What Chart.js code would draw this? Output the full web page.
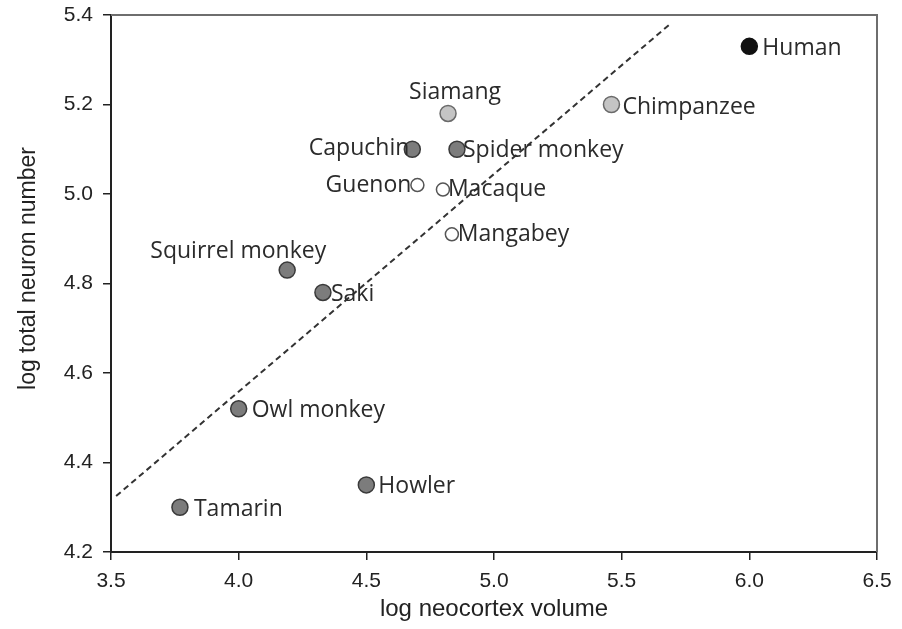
<!DOCTYPE html>
<html lang="en">
<head>
<meta charset="UTF-8" />
<title>Neocortex volume and neuron number in primates</title>
<script src="https://cdn.jsdelivr.net/npm/chart.js@4.4.0/dist/chart.umd.min.js"></script>
<style>
  html, body { margin: 0; padding: 0; background: #fff; }
  #wrap { width: 902px; height: 629px; }
</style>
</head>
<body>
<div id="wrap"><canvas id="myChart" width="902" height="629"></canvas></div>
<script>
  // species data (log10 values)
  const species = ["Human", "Chimpanzee", "Siamang", "Capuchin", "Spider monkey", "Guenon", "Macaque",
                   "Mangabey", "Squirrel monkey", "Saki", "Owl monkey", "Howler", "Tamarin"];
  const logNeocortex = [6.00, 5.46, 4.82, 4.68, 4.855, 4.70, 4.80, 4.835, 4.19, 4.33, 4.00, 4.50, 3.77];
  const logNeurons = [5.33, 5.20, 5.18, 5.10, 5.10, 5.02, 5.01, 4.91, 4.83, 4.78, 4.52, 4.35, 4.30];
  const group = ["human", "ape", "ape", "newWorld", "newWorld", "oldWorld", "oldWorld", "oldWorld",
                 "newWorld", "newWorld", "newWorld", "newWorld", "newWorld"];

  // regression line end points
  const fitX = [3.52, 5.69];
  const fitY = [4.325, 5.38];

  const xTicks = [3.5, 4.0, 4.5, 5.0, 5.5, 6.0, 6.5];
  const yTicks = [4.2, 4.4, 4.6, 4.8, 5.0, 5.2, 5.4];

  // marker look per group
  const groupStyle = {
    human:    { fill: "#111111", edge: "#111111", r: 8 },
    ape:      { fill: "#c4c4c4", edge: "#6a6a6a", r: 8 },
    newWorld: { fill: "#7c7c7c", edge: "#3a3a3a", r: 8 },
    oldWorld: { fill: "#ffffff", edge: "#555555", r: 6.5 }
  };

  // where each name sits next to its marker: [textAlign, dx, dy]
  const labelSpots = {
    "Human": ["left", 13, 2],
    "Chimpanzee": ["left", 11, 3],
    "Siamang": ["center", 7, -21],
    "Capuchin": ["right", -3, -1],
    "Spider monkey": ["left", 6, 1],
    "Guenon": ["right", -6, 0],
    "Macaque": ["left", 5, 0],
    "Mangabey": ["left", 6, 0],
    "Squirrel monkey": ["right", 39, -19],
    "Saki": ["left", 8, 2],
    "Owl monkey": ["left", 13, 2],
    "Howler": ["left", 12, 2],
    "Tamarin": ["left", 14, 2]
  };

  const tickFont = { family: "'Liberation Sans', Arial, sans-serif", size: 21 };

  const points = species.map((s, i) => ({ x: logNeocortex[i], y: logNeurons[i] }));
  const fitLine = fitX.map((x, i) => ({ x: x, y: fitY[i] }));

  const pointLabels = {
    id: "pointLabels",
    afterDatasetsDraw(chart) {
      const meta = chart.getDatasetMeta(1);
      const ctx = chart.ctx;
      ctx.save();
      ctx.font = "23px 'Open Sans', 'Noto Sans', sans-serif";
      ctx.fillStyle = "#2b2b2b";
      ctx.textBaseline = "middle";
      meta.data.forEach((pt, i) => {
        const spot = labelSpots[species[i]];
        ctx.textAlign = spot[0];
        ctx.fillText(species[i], pt.x + spot[1], pt.y + spot[2]);
      });
      ctx.restore();
    }
  };

  // top and right edges of the plot box
  const frame = {
    id: "frame",
    beforeDatasetsDraw(chart) {
      const ctx = chart.ctx;
      const a = chart.chartArea;
      ctx.save();
      ctx.strokeStyle = "#6e6e6e";
      ctx.lineWidth = 2;
      ctx.beginPath();
      ctx.moveTo(a.left, a.top);
      ctx.lineTo(a.right, a.top);
      ctx.lineTo(a.right, a.bottom);
      ctx.stroke();
      ctx.restore();
    }
  };

  // y axis title, drawn a little above the middle of the axis
  const yTitle = {
    id: "yTitle",
    afterDraw(chart) {
      const ctx = chart.ctx;
      const a = chart.chartArea;
      ctx.save();
      ctx.translate(29, (a.top + a.bottom) / 2 - 15);
      ctx.rotate(-Math.PI / 2);
      ctx.font = "23px 'Liberation Sans', Arial, sans-serif";
      ctx.fillStyle = "#222";
      ctx.textAlign = "center";
      ctx.textBaseline = "middle";
      ctx.fillText("log total neuron number", 0, 0);
      ctx.restore();
    }
  };

  const ctx = document.getElementById("myChart");
  new Chart(ctx, {
    type: "scatter",
    data: {
      datasets: [
        {
          type: "line",
          data: fitLine,
          borderColor: "#333",
          borderWidth: 2,
          borderDash: [6, 4],
          pointRadius: 0,
          fill: false,
          order: 2
        },
        {
          data: points,
          pointRadius: group.map(g => groupStyle[g].r),
          pointBackgroundColor: group.map(g => groupStyle[g].fill),
          pointBorderColor: group.map(g => groupStyle[g].edge),
          pointBorderWidth: 1.5,
          order: 1
        }
      ]
    },
    options: {
      responsive: false,
      animation: false,
      devicePixelRatio: 1,
      layout: { padding: { top: 15, right: 25, left: 0, bottom: 0 } },
      plugins: {
        legend: { display: false },
        tooltip: { enabled: false }
      },
      scales: {
        x: {
          type: "linear",
          min: 3.5,
          max: 6.5,
          afterBuildTicks: s => { s.ticks = xTicks.map(v => ({ value: v })); },
          afterFit: s => { s.height = 77; },
          ticks: { callback: v => v.toFixed(1), font: tickFont, color: "#222", padding: 9, maxRotation: 0 },
          grid: { drawOnChartArea: false, drawTicks: true, tickLength: 8, color: "#222", lineWidth: 1.5 },
          border: { display: true, color: "#222", width: 2 },
          title: {
            display: true,
            text: "log neocortex volume",
            font: { family: "'Liberation Sans', Arial, sans-serif", size: 24 },
            color: "#222",
            padding: { top: 0, bottom: 5 }
          }
        },
        y: {
          type: "linear",
          min: 4.2,
          max: 5.4,
          afterBuildTicks: s => { s.ticks = yTicks.map(v => ({ value: v })); },
          // fixed width, and no extra room reserved for the end labels
          afterFit: s => { s.width = 111; s.paddingTop = 0; s.paddingBottom = 0; },
          ticks: { callback: v => v.toFixed(1), font: tickFont, color: "#222", padding: 10 },
          grid: { drawOnChartArea: false, drawTicks: true, tickLength: 8, color: "#222", lineWidth: 1.5 },
          border: { display: true, color: "#222", width: 2 }
        }
      }
    },
    plugins: [frame, pointLabels, yTitle]
  });
</script>
</body>
</html>
